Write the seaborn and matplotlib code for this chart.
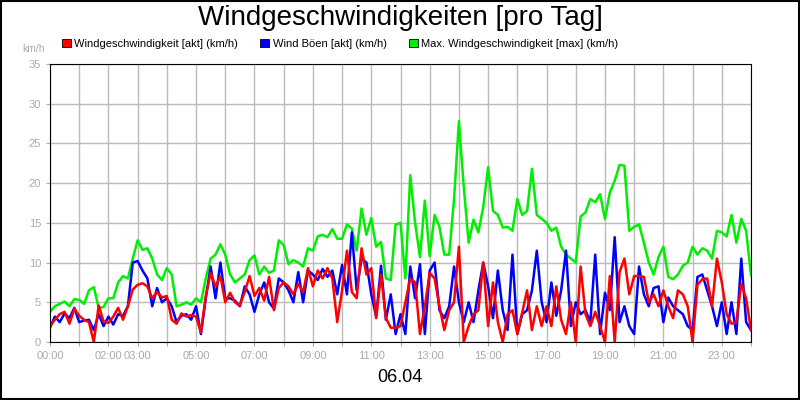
import numpy as np
import pandas as pd
import matplotlib
matplotlib.use("Agg")
import matplotlib.pyplot as plt
from matplotlib.patches import Patch, Rectangle
import seaborn as sns

plt.rcParams["font.family"] = "Liberation Sans"

names = ["Windgeschwindigkeit [akt] (km/h)", "Wind Böen [akt] (km/h)", "Max. Windgeschwindigkeit [max] (km/h)"]
colors = ["#ff0000", "#0000ff", "#00ee00"]

wind = [2.0,2.8,3.5,3.8,2.3,4.2,3.3,2.8,2.5,0.0,4.6,2.6,2.4,3.2,4.3,2.8,4.5,6.6,
        7.2,7.4,7.0,5.5,6.3,5.6,5.8,2.8,2.3,3.6,3.2,3.4,
        3.2,1.2,5.8,8.7,7.0,8.3,5.0,6.2,5.0,4.6,6.3,8.3,
        5.8,6.8,5.2,8.2,4.0,6.8,7.5,7.0,6.0,7.3,6.3,9.3,
        7.0,9.0,8.0,9.3,8.0,2.5,6.5,11.5,6.3,5.5,11.8,8.5,
        9.3,3.0,8.5,3.0,1.8,1.8,
        2.0,5.0,8.0,7.5,1.0,4.5,8.7,8.0,4.5,1.5,4.0,5.0,12.0,0.0,2.0,3.5,4.0,10.0,2.0,7.5,
        2.5,0.0,3.5,4.0,1.0,3.7,6.5,1.5,4.5,2.0,4.5,2.0,7.0,2.8,1.0,5.0,0.0,9.5,3.5,2.0,
        3.8,2.0,0.0,8.3,0.0,8.8,10.5,6.0,8.3,8.3,8.2,5.0,6.0,4.5,6.5,4.5,3.0,6.5,6.0,4.5,
        0.0,7.2,7.9,8.0,4.5,10.5,7.5,3.5,2.3,2.5,7.3,5.5,1.5]

boeen = [1.8,3.2,2.5,3.6,3.0,4.3,2.5,2.7,2.8,1.5,3.5,2.0,3.2,2.2,3.5,3.3,4.5,10.0,
         10.2,9.0,8.0,4.5,6.8,5.0,5.5,4.5,2.5,3.3,3.5,2.8,
         4.5,1.0,5.5,9.5,5.5,10.0,5.5,5.5,5.2,4.5,7.0,6.0,
         3.8,6.0,7.5,5.0,4.2,8.0,7.5,6.5,5.0,8.8,5.0,9.0,
         8.5,7.8,9.2,8.2,9.0,6.0,9.7,6.0,13.8,6.5,10.5,10.0,
         6.0,3.2,9.6,2.8,6.0,1.0,
         3.5,1.0,9.5,5.5,9.8,1.0,9.0,10.0,4.0,3.0,4.5,9.5,5.0,2.5,5.0,2.5,6.5,10.0,7.0,3.0,
         9.0,4.0,1.5,11.0,1.0,3.5,4.0,6.5,11.5,5.0,2.5,7.5,3.3,6.5,11.5,2.0,5.0,3.5,4.0,2.5,
         11.0,1.0,6.2,4.0,13.2,2.5,4.5,2.0,1.0,9.5,6.0,4.5,6.8,7.0,2.5,5.6,4.5,4.0,3.5,2.0,
         1.5,8.2,8.5,6.5,4.5,2.0,5.0,1.0,5.0,1.0,10.5,2.5,1.5]

maxwind = [3.8,4.5,4.8,5.1,4.5,5.4,5.3,4.8,6.5,6.9,4.3,4.4,5.5,5.5,7.5,8.3,8.0,10.5,
           12.8,11.6,11.8,10.5,8.5,7.8,9.3,8.5,4.5,4.7,5.0,4.7,
           5.5,5.0,8.0,10.5,11.0,12.3,11.0,8.5,7.5,8.0,8.5,10.3,
           10.9,8.5,9.5,8.7,9.0,12.8,12.2,9.8,10.3,10.0,9.5,11.8,
           11.5,13.3,13.5,13.2,14.2,13.0,13.0,14.8,14.3,11.5,16.8,13.5,
           15.6,12.0,12.6,8.0,7.8,14.8,
           15.0,8.0,21.0,15.0,10.7,17.8,10.8,16.0,14.5,11.0,11.0,18.0,27.8,19.5,12.5,15.4,13.8,17.0,22.0,16.5,
           16.0,14.4,14.5,14.0,18.0,16.0,16.5,21.8,16.0,15.5,15.0,14.0,14.4,12.0,11.0,10.5,10.0,15.8,16.3,18.0,
           17.6,18.6,15.5,18.8,20.3,22.3,22.2,14.0,14.5,14.8,12.5,10.0,8.5,10.7,12.0,8.2,7.9,8.5,9.6,10.0,
           12.0,11.0,11.8,11.5,10.5,14.0,13.8,13.3,16.0,12.5,15.5,14.0,8.4]

tick_hours = [0, 2, 3, 5, 7, 9, 11, 13, 15, 17, 19, 21, 23]
tick_labels = ["00:00", "02:00", "03:00", "05:00", "07:00", "09:00", "11:00", "13:00",
               "15:00", "17:00", "19:00", "21:00", "23:00"]

frames = []
for n, v in zip(names, [wind, boeen, maxwind]):
    frames.append(pd.DataFrame({"h": np.arange(len(v)) * 24.0 / (len(v) - 1), "v": v, "s": n}))
df = pd.concat(frames)

fig = plt.figure(figsize=(8, 4), dpi=100)
ax = fig.add_axes([0.0625, 0.145, 0.87625, 0.695])
order = [names[2], names[1], names[0]]
sns.lineplot(data=df, x="h", y="v", hue="s", hue_order=order,
             palette={n: c for n, c in zip(names, colors)}, linewidth=1.8, ax=ax, legend=False)
ax.set_xlim(0, 24)
ax.set_ylim(0, 35)
ax.set_xticks(range(25), minor=False)
ax.set_xticklabels([tick_labels[tick_hours.index(h)] if h in tick_hours else "" for h in range(25)])
ax.set_yticks(range(0, 36, 5))
ax.grid(True, color="#bbbbbb", linewidth=1)
ax.set_axisbelow(True)
ax.tick_params(colors="#aaaaaa", labelsize=8, length=3, labelcolor="#aaaaaa")
ax.set_xlabel("")
ax.set_ylabel("")
for s in ax.spines.values():
    s.set_color("black")

fig.text(0.5, 0.955, "Windgeschwindigkeiten [pro Tag]", ha="center", va="center", fontsize=20)
fig.text(0.5, 0.055, "06.04", ha="center", va="center", fontsize=13)
fig.text(0.028, 0.878, "km/h", fontsize=7.5, color="#aaaaaa", ha="left", va="center")
handles = [Patch(facecolor=c, edgecolor="black", linewidth=0.6) for c in colors]
fig.legend(handles, names, loc="center left", bbox_to_anchor=(0.065, 0.89), ncol=3, frameon=False,
           fontsize=8, handlelength=0.8, handleheight=0.8, handletextpad=0.3, columnspacing=2.0)
fig.patches.append(Rectangle((0.001, 0.002), 0.998, 0.996, transform=fig.transFigure,
                             fill=False, edgecolor="black", linewidth=1.5))
fig.savefig("out.png", dpi=100)
